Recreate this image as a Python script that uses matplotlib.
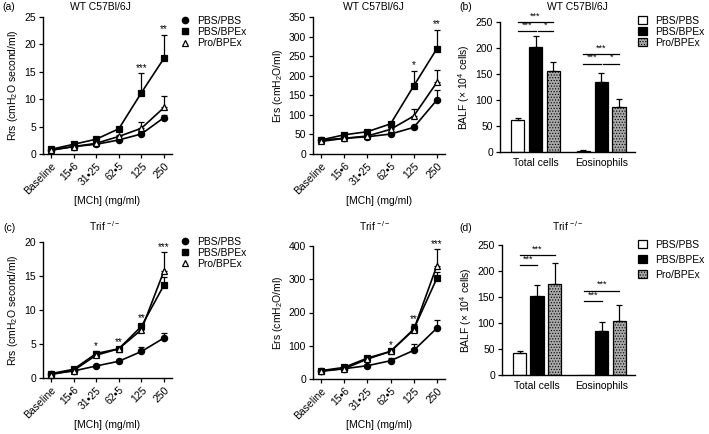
import numpy as np
from matplotlib import pyplot as plt
from matplotlib.lines import Line2D
from matplotlib.patches import Patch

plt.rcParams['font.family'] = ['Liberation Sans', 'DejaVu Sans']
plt.rcParams['mathtext.fontset'] = 'custom'
plt.rcParams['mathtext.rm'] = 'Liberation Sans'
plt.rcParams['mathtext.default'] = 'regular'
plt.rcParams['font.size'] = 7.5
plt.rcParams['hatch.linewidth'] = 0.5

# dose axis and treatment groups
doses = ['Baseline', '15\u20226', '31\u202225', '62\u20225', '125', '250']
groups = ['PBS/PBS', 'PBS/BPEx', 'Pro/BPEx']
cell_types = ['Total cells', 'Eosinophils']

# WT C57Bl/6J - resistance (Rrs)
wt_rrs_pbs = [0.7, 1.35, 1.77, 2.56, 3.66, 6.65]
wt_rrs_pbs_err = [0.05, 0.1, 0.1, 0.15, 0.3, 0.4]
wt_rrs_bpex = [0.85, 1.77, 2.7, 4.6, 11.2, 17.5]
wt_rrs_bpex_err = [0.1, 0.1, 0.2, 0.3, 3.55, 4.3]
wt_rrs_pro = [0.7, 1.35, 1.95, 3.2, 4.7, 8.5]
wt_rrs_pro_err = [0.1, 0.1, 0.15, 0.3, 1.1, 2.0]
wt_rrs_stars = ['', '', '', '', '***', '**']

# WT C57Bl/6J - elastance (Ers)
wt_ers_pbs = [36, 40, 44, 51, 68, 138]
wt_ers_pbs_err = [2, 2, 2, 3, 4, 26]
wt_ers_bpex = [36, 49, 57, 77, 174, 269]
wt_ers_bpex_err = [2, 3, 3, 5, 39, 49]
wt_ers_pro = [32, 40, 46, 63, 97, 183]
wt_ers_pro_err = [2, 2, 3, 4, 18, 32]
wt_ers_stars = ['', '', '', '', '*', '**']

# Trif-/- - resistance (Rrs)
trif_rrs_pbs = [0.64, 1.03, 1.77, 2.46, 3.9, 5.9]
trif_rrs_pbs_err = [0.05, 0.1, 0.1, 0.15, 0.6, 0.65]
trif_rrs_bpex = [0.64, 1.28, 3.6, 4.3, 7.6, 13.7]
trif_rrs_bpex_err = [0.05, 0.1, 0.35, 0.3, 0.4, 1.2]
trif_rrs_pro = [0.5, 1.1, 3.35, 4.3, 7.1, 15.8]
trif_rrs_pro_err = [0.05, 0.1, 0.5, 0.3, 0.8, 2.7]
trif_rrs_stars = ['', '', '*', '**', '**', '***']

# Trif-/- - elastance (Ers)
trif_ers_pbs = [25, 31, 40, 55, 86, 153]
trif_ers_pbs_err = [2, 2, 3, 8, 19, 25]
trif_ers_bpex = [25, 35, 63, 83, 150, 303]
trif_ers_bpex_err = [2, 3, 4, 5, 12, 20]
trif_ers_pro = [23, 31, 60, 83, 148, 341]
trif_ers_pro_err = [2, 2, 4, 5, 17, 49]
trif_ers_stars = ['', '', '', '*', '**', '***']

# BALF cell counts (x 10^4), order PBS/PBS, PBS/BPEx, Pro/BPEx
wt_total = [62, 202, 155]
wt_total_err = [4, 21, 18]
wt_eos = [2.5, 134, 86]
wt_eos_err = [0.5, 18, 16]
trif_total = [43, 152, 175]
trif_total_err = [3, 22, 41]
trif_eos = [0, 85, 104]
trif_eos_err = [0, 16, 31]

# significance brackets (bar index from, bar index to, height, label)
wt_brackets = [(0, 1, 233, '***'), (1, 2, 233, '*'), (0, 2, 250, '***'),
               (3, 4, 170, '***'), (4, 5, 170, '*'), (3, 5, 188, '***')]
trif_brackets = [(0, 1, 211, '***'), (0, 2, 230, '***'),
                 (3, 4, 142, '***'), (3, 5, 162, '***')]

W, H = 709, 434
fig = plt.figure(figsize=(W / 100, H / 100), dpi=100)


def rect(left, top, right, bottom):
    # pixel box of the reference -> figure fraction
    return [left / W, 1 - bottom / H, (right - left) / W, (bottom - top) / H]


def style_axes(ax):
    ax.spines['top'].set_visible(False)
    ax.spines['right'].set_visible(False)
    ax.spines['left'].set_linewidth(1.0)
    ax.spines['bottom'].set_linewidth(1.0)
    ax.tick_params(width=0.9, length=3, labelsize=7.5, pad=2)


def line_panel(ax, series, stars, ymax, ystep, ylabel):
    x = np.arange(len(doses))
    markers = ['o', 's', '^']
    faces = ['black', 'black', 'white']
    sizes = [4.5, 5, 5]
    for (mean, err), m, fc, ms in zip(series, markers, faces, sizes):
        mean = np.array(mean, dtype=float)
        err = np.array(err, dtype=float)
        ax.errorbar(x, mean, yerr=[np.zeros_like(err), err], color='black',
                    lw=1.2, capsize=2.5, elinewidth=0.9, capthick=0.9,
                    marker=m, mfc=fc, mec='black', mew=0.9, ms=ms, clip_on=False)
    tops = np.max([np.array(m) + np.array(e) for m, e in series], axis=0)
    for xi, top, s in zip(x, tops, stars):
        if s:
            ax.annotate(s, (xi, top), xytext=(0, 1.5), textcoords='offset points',
                        ha='center', va='baseline', fontsize=7, annotation_clip=False)
    ax.set_xlim(-0.35, 5.35)
    ax.set_ylim(0, ymax)
    ax.set_yticks(np.arange(0, ymax + ystep / 2, ystep))
    ax.set_xticks(x)
    ax.set_xticklabels(doses, rotation=45, ha='right', rotation_mode='anchor')
    ax.set_ylabel(ylabel, fontsize=7.5, labelpad=3)
    ax.set_xlabel('[MCh] (mg/ml)', fontsize=7.5)
    ax.xaxis.set_label_coords(0.5, -0.31)
    style_axes(ax)


def bar_panel(ax, total, total_err, eos, eos_err, brackets):
    pos = np.array([0, 1, 2, 3.7, 4.7, 5.7])
    vals = list(total) + list(eos)
    errs = list(total_err) + list(eos_err)
    faces = ['white', 'black', '#a8a8a8'] * 2
    hatches = ['', '', '......'] * 2
    for p, v, e, fc, h in zip(pos, vals, errs, faces, hatches):
        ax.bar(p, v, 0.75, color=fc, edgecolor='black', linewidth=0.9, hatch=h)
        if v > 0:
            ax.errorbar(p, v, yerr=[[0], [e]], color='black', capsize=2.5,
                        elinewidth=0.9, capthick=0.9, fmt='none')
    for i, j, y, lab in brackets:
        x0, x1 = pos[i], pos[j]
        if i in (1, 4):
            x0 += 0.12  # small gap after the neighbouring bracket
        ax.plot([x0, x1], [y, y], color='black', lw=0.9, clip_on=False)
        ax.text((x0 + x1) / 2, y + 3, lab, ha='center', va='bottom', fontsize=6.5)
    ax.set_xlim(-1.0, 6.6)
    ax.set_ylim(0, 250)
    ax.set_yticks(np.arange(0, 251, 50))
    ax.set_xticks([1, 4.7])
    ax.set_xticklabels(cell_types)
    style_axes(ax)
    ax.tick_params(axis='x', length=0, pad=4)
    ax.set_ylabel(r'BALF ($\times$ 10$^4$ cells)', fontsize=7.5, labelpad=3)


ax_a1 = fig.add_axes(rect(43, 17, 172, 154))
line_panel(ax_a1, [(wt_rrs_pbs, wt_rrs_pbs_err), (wt_rrs_bpex, wt_rrs_bpex_err),
                   (wt_rrs_pro, wt_rrs_pro_err)], wt_rrs_stars, 25, 5,
           r'Rrs (cmH$_2$O second/ml)')
ax_a2 = fig.add_axes(rect(313, 17, 445, 154))
line_panel(ax_a2, [(wt_ers_pbs, wt_ers_pbs_err), (wt_ers_bpex, wt_ers_bpex_err),
                   (wt_ers_pro, wt_ers_pro_err)], wt_ers_stars, 350, 50,
           r'Ers (cmH$_2$O/ml)')
ax_c1 = fig.add_axes(rect(43, 242, 172, 378))
line_panel(ax_c1, [(trif_rrs_pbs, trif_rrs_pbs_err), (trif_rrs_bpex, trif_rrs_bpex_err),
                   (trif_rrs_pro, trif_rrs_pro_err)], trif_rrs_stars, 20, 5,
           r'Rrs (cmH$_2$O second/ml)')
ax_c2 = fig.add_axes(rect(313, 246, 445, 379))
line_panel(ax_c2, [(trif_ers_pbs, trif_ers_pbs_err), (trif_ers_bpex, trif_ers_bpex_err),
                   (trif_ers_pro, trif_ers_pro_err)], trif_ers_stars, 400, 100,
           r'Ers (cmH$_2$O/ml)')

ax_b = fig.add_axes(rect(500, 22, 635, 152))
bar_panel(ax_b, wt_total, wt_total_err, wt_eos, wt_eos_err, wt_brackets)
ax_d = fig.add_axes(rect(502, 245, 635, 375))
bar_panel(ax_d, trif_total, trif_total_err, trif_eos, trif_eos_err, trif_brackets)

# legends
line_handles = [Line2D([], [], marker='o', color='black', ls='none', ms=4.5),
                Line2D([], [], marker='s', color='black', ls='none', ms=5),
                Line2D([], [], marker='^', mfc='white', mec='black', mew=0.9, ls='none', ms=5)]
bar_handles = [Patch(facecolor='white', edgecolor='black', lw=0.9),
               Patch(facecolor='black', edgecolor='black', lw=0.9),
               Patch(facecolor='#a8a8a8', edgecolor='black', lw=0.9, hatch='......')]
for top, handles, lx, sp in [(16, line_handles, 180, 0.12), (237, line_handles, 180, 0.1),
                             (16, bar_handles, 638, 0.08), (240, bar_handles, 638, 0.48)]:
    fig.legend(handles, groups, loc='upper left', bbox_to_anchor=(lx / W, 1 - top / H),
               frameon=False, borderpad=0, borderaxespad=0, handlelength=0.9,
               handleheight=0.8, handletextpad=0.7, labelspacing=sp, fontsize=7.5)

# titles and panel letters
for x, y, s in [(100, 7, 'WT C57Bl/6J'), (373, 7, 'WT C57Bl/6J'), (577, 7, 'WT C57Bl/6J'),
                (105, 226, 'Trif $^{-/-}$'), (375, 226, 'Trif $^{-/-}$'), (568, 226, 'Trif $^{-/-}$'),
                (9, 7, '(a)'), (466, 7, '(b)'), (9, 228, '(c)'), (466, 228, '(d)')]:
    fig.text(x / W, 1 - y / H, s, ha='center', va='center', fontsize=7.5)

fig.savefig('out.png', dpi=100)
